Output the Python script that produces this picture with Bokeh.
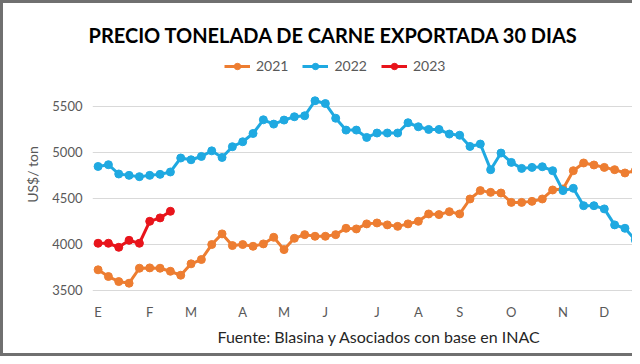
from bokeh.plotting import figure
from bokeh.models import (Range1d, FixedTicker, Legend, LegendItem, Title, ColumnDataSource)
from bokeh.embed import file_html
from bokeh.resources import INLINE

# ---- data (weekly, week index 0 = first week of January) ----
y2021 = [3720, 3647, 3592, 3574, 3737, 3741, 3737, 3704, 3661, 3785, 3832, 3995, 4111,
         3984, 3995, 3976, 4002, 4074, 3940, 4063, 4103, 4085, 4085, 4103, 4172, 4165,
         4220, 4230, 4209, 4193, 4220, 4248, 4328, 4321, 4353, 4328, 4491, 4582, 4563,
         4556, 4454, 4454, 4465, 4491, 4589, 4600, 4799, 4883, 4861, 4835, 4810, 4774,
         4799, 4850]
y2022 = [4845, 4864, 4763, 4748, 4734, 4748, 4759, 4785, 4937, 4918, 4954, 5015, 4943,
         5060, 5114, 5204, 5353, 5306, 5350, 5386, 5397, 5560, 5530, 5370, 5241, 5241,
         5161, 5209, 5209, 5209, 5321, 5277, 5248, 5248, 5198, 5185, 5063, 5089, 4810,
         4991, 4889, 4824, 4835, 4842, 4799, 4582, 4607, 4418, 4418, 4383, 4209, 4172,
         4046]
y2023 = [4009, 4009, 3965, 4041, 4009, 4248, 4285, 4357]

month_labels = ["E", "F", "M", "A", "M", "J", "J", "A", "S", "O", "N", "D"]
month_weeks = [0, 5, 9, 14, 18, 22, 27, 31, 35, 40, 45, 49]
y_ticks = [3500, 4000, 4500, 5000, 5500]

series = [("2021", y2021, "#ED7D31"), ("2022", y2022, "#1FA9E1"), ("2023", y2023, "#E8141B")]

FONT = "Lato"
GREY = "#595959"

p = figure(width=632, height=356, frame_width=540, frame_height=236,
           output_backend="svg", toolbar_location=None,
           x_range=Range1d(-0.54, 51.73), y_range=Range1d(3473, 6042),
           min_border_left=92, min_border_right=0, min_border_top=56, min_border_bottom=64)
# grey outer frame (left, top, bottom) of the original picture, drawn behind the transparent border area
p.styles = {"background-color": "white",
            "box-shadow": "inset 3px 3px 0 0 #707070, inset 0 -3px 0 0 #707070"}
p.outline_line_color = None
p.background_fill_color = "white"
p.border_fill_alpha = 0

p.title.text = "PRECIO TONELADA DE CARNE EXPORTADA 30 DIAS"
p.title.text_font = FONT
p.title.text_font_size = "20px"
p.title.text_font_style = "bold"
p.title.text_color = "#000000"
p.title.align = "left"
p.title.offset = -4
p.title.standoff = 20

items = []
for name, vals, col in series:
    src = ColumnDataSource(dict(x=list(range(len(vals))), y=vals))
    r1 = p.line("x", "y", source=src, line_color=col, line_width=3)
    r2 = p.scatter("x", "y", source=src, size=8, fill_color=col, line_color=col)
    items.append(LegendItem(label=name, renderers=[r1, r2]))

legend = Legend(items=items, orientation="horizontal", location=(132, 218),
                glyph_width=26, glyph_height=16, label_standoff=6, spacing=14,
                padding=2, margin=0, border_line_color=None, background_fill_alpha=0,
                label_text_font=FONT, label_text_font_size="14px", label_text_color=GREY)
p.add_layout(legend)

# axes
p.xaxis.ticker = FixedTicker(ticks=month_weeks)
p.xaxis.major_label_overrides = {w: m for w, m in zip(month_weeks, month_labels)}
p.yaxis.ticker = FixedTicker(ticks=y_ticks)
for ax in (p.xaxis[0], p.yaxis[0]):
    ax.axis_line_color = None
    ax.major_tick_line_color = None
    ax.minor_tick_line_color = None
    ax.major_tick_out = 0
    ax.major_label_text_font = FONT
    ax.major_label_text_font_size = "13px"
    ax.major_label_text_color = GREY
p.xaxis.major_label_standoff = 11
p.yaxis.major_label_standoff = 10
p.yaxis.axis_label = "US$/ ton"
p.yaxis.axis_label_text_font = FONT
p.yaxis.axis_label_text_font_size = "14px"
p.yaxis.axis_label_text_font_style = "normal"
p.yaxis.axis_label_text_color = GREY
p.yaxis.axis_label_standoff = 8

p.xgrid.grid_line_color = None
p.ygrid.ticker = FixedTicker(ticks=y_ticks)
p.ygrid.grid_line_color = "#D9D9D9"
p.ygrid.grid_line_width = 1

src_title = Title(text="Fuente: Blasina y Asociados con base en INAC", align="left",
                  offset=125, text_font=FONT, text_font_size="16px",
                  text_font_style="normal", text_color="#262626", standoff=4)
p.add_layout(src_title, "below")

open("out.html", "w").write(file_html(p, INLINE))
